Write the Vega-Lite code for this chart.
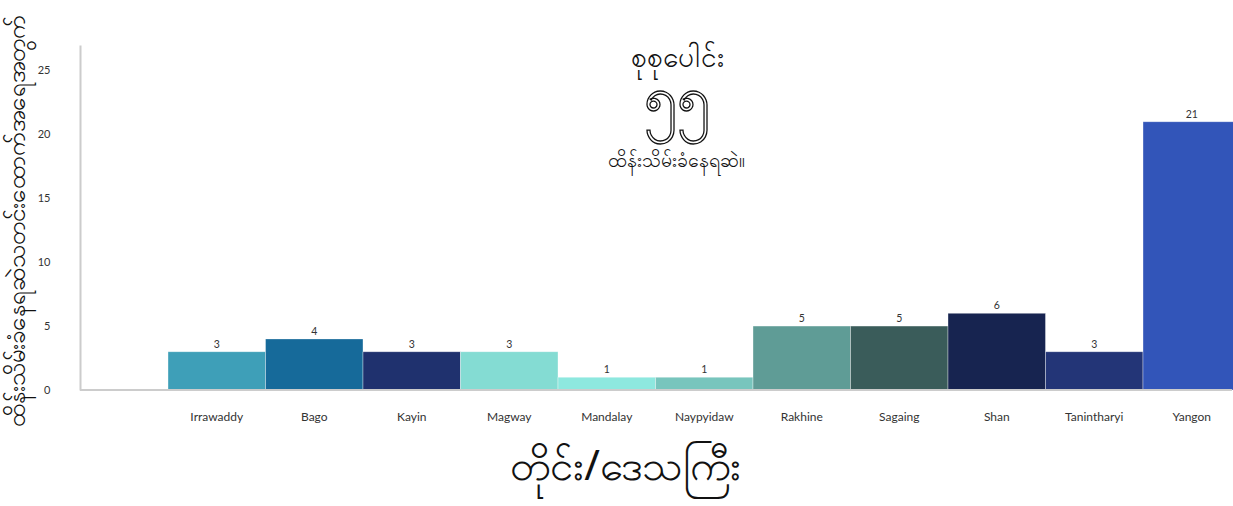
{
  "$schema": "https://vega.github.io/schema/vega-lite/v6.json",
  "width": 1152,
  "height": 345,
  "autosize": {"type": "none"},
  "padding": {"left": 80, "top": 45, "right": 1, "bottom": 116},
  "background": "white",
  "config": {"view": {"stroke": null}, "font": "Noto Sans"},
  "datasets": {
    "regions": [
      {"region": "Irrawaddy", "count": 3},
      {"region": "Bago", "count": 4},
      {"region": "Kayin", "count": 3},
      {"region": "Magway", "count": 3},
      {"region": "Mandalay", "count": 1},
      {"region": "Naypyidaw", "count": 1},
      {"region": "Rakhine", "count": 5},
      {"region": "Sagaing", "count": 5},
      {"region": "Shan", "count": 6},
      {"region": "Tanintharyi", "count": 3},
      {"region": "Yangon", "count": 21}
    ],
    "headline": [
      {"line": "စုစုပေါင်း", "level": 25.9, "kind": "small"},
      {"line": "ထိန်းသိမ်းခံနေရဆဲ။", "level": 17.9, "kind": "small2"}
    ],
    "total": [
      {"line": "၅၅", "level": 21.3}
    ]
  },
  "layer": [
    {
      "data": {"name": "regions"},
      "mark": {"type": "bar", "stroke": "#ffffff", "strokeWidth": 0.6, "strokeOpacity": 0.6},
      "encoding": {
        "x": {
          "field": "region", "type": "nominal", "sort": null,
          "scale": {"range": [88, 1160.5], "paddingInner": 0, "paddingOuter": 0},
          "axis": {
            "domain": false, "ticks": false, "labelAngle": 0,
            "labelFontSize": 12, "labelColor": "#333333", "labelFont": "Lato",
            "labelPadding": 21,
            "title": "တိုင်း/ဒေသကြီး", "titleFontSize": 42, "titleFontWeight": "normal",
            "titleColor": "#111111", "titleX": 545, "titleY": 76, "titleBaseline": "middle"
          }
        },
        "y": {
          "field": "count", "type": "quantitative",
          "scale": {"domain": [0, 27], "nice": false},
          "axis": {
            "values": [0, 5, 10, 15, 20, 25], "grid": false, "ticks": false,
            "domainColor": "#cccccc", "domainWidth": 2,
            "labelFontSize": 11, "labelColor": "#333333", "labelFont": "Lato",
            "labelPadding": 30,
            "title": "ထိန်းသိမ်းခံနေရဆဲသတင်းထောက်အရေအတွက်", "titleFontSize": 24.3,
            "titleFontWeight": "normal", "titleColor": "#111111",
            "titleX": -63, "titleY": 175, "titleAngle": -90, "titleBaseline": "middle", "titleAlign": "center"
          }
        },
        "color": {
          "field": "region", "type": "nominal", "legend": null,
          "scale": {
            "domain": ["Irrawaddy", "Bago", "Kayin", "Magway", "Mandalay", "Naypyidaw", "Rakhine", "Sagaing", "Shan", "Tanintharyi", "Yangon"],
            "range": ["#3e9fb8", "#166a9a", "#1f316e", "#84dcd3", "#8ee8df", "#78c5bd", "#5f9c96", "#3a5c5a", "#172450", "#233577", "#3255b9"]
          }
        }
      }
    },
    {
      "data": {"name": "regions"},
      "mark": {"type": "text", "dy": -7, "fontSize": 10.5, "color": "#333333", "font": "Lato"},
      "encoding": {
        "x": {"field": "region", "type": "nominal", "sort": null},
        "y": {"field": "count", "type": "quantitative"},
        "text": {"field": "count", "type": "quantitative"}
      }
    },
    {
      "data": {"values": [{"base": 0}]},
      "mark": {"type": "rule", "color": "#cccccc", "strokeWidth": 2},
      "encoding": {"y": {"field": "base", "type": "quantitative"}}
    },
    {
      "data": {"name": "headline"},
      "mark": {"type": "text", "dx": 21, "color": "#111111", "baseline": "middle", "align": "center"},
      "encoding": {
        "x": {"datum": "Naypyidaw", "bandPosition": 0},
        "y": {"field": "level", "type": "quantitative"},
        "text": {"field": "line", "type": "nominal"},
        "size": {"field": "kind", "type": "nominal", "legend": null, "scale": {"domain": ["small", "small2"], "range": [28, 19.5]}}
      }
    },
    {
      "data": {"name": "total"},
      "mark": {"type": "text", "dx": 21, "fontSize": 60, "fill": "#ffffff", "stroke": "#111111", "strokeWidth": 1.3, "baseline": "alphabetic", "align": "center"},
      "encoding": {
        "x": {"datum": "Naypyidaw", "bandPosition": 0},
        "y": {"field": "level", "type": "quantitative"},
        "text": {"field": "line", "type": "nominal"}
      }
    }
  ]
}
